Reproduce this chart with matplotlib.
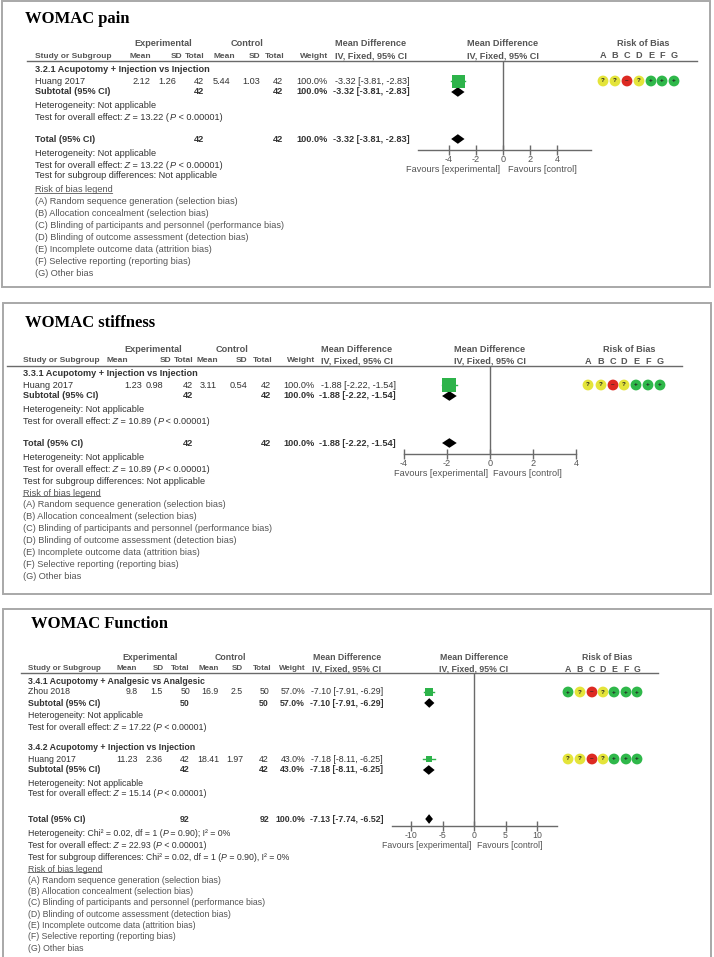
import matplotlib
matplotlib.use("Agg")
import matplotlib.pyplot as plt
from matplotlib.patches import Circle, Rectangle

plt.rcParams['font.family'] = ['Liberation Sans', 'DejaVu Sans']
plt.rcParams['axes.unicode_minus'] = False

# ---- data ----
rob_domains = ["A", "B", "C", "D", "E", "F", "G"]
rob_legend = ["Random sequence generation (selection bias)",
              "Allocation concealment (selection bias)",
              "Blinding of participants and personnel (performance bias)",
              "Blinding of outcome assessment (detection bias)",
              "Incomplete outcome data (attrition bias)",
              "Selective reporting (reporting bias)",
              "Other bias"]

# WOMAC pain
pain_group = "3.2.1 Acupotomy + Injection vs Injection"
pain_study = ["Huang 2017"]
pain_exp_mean = [2.12]
pain_exp_sd = [1.26]
pain_exp_n = [42]
pain_ctl_mean = [5.44]
pain_ctl_sd = [1.03]
pain_ctl_n = [42]
pain_weight = [100.0]
pain_md = [-3.32]
pain_lo = [-3.81]
pain_hi = [-2.83]
pain_rob = [["?", "?", "-", "?", "+", "+", "+"]]
pain_z = ["13.22"]
pain_total = [-3.32, -3.81, -2.83]
pain_total_z = "13.22"

# WOMAC stiffness
stiff_group = "3.3.1 Acupotomy + Injection vs Injection"
stiff_study = ["Huang 2017"]
stiff_exp_mean = [1.23]
stiff_exp_sd = [0.98]
stiff_exp_n = [42]
stiff_ctl_mean = [3.11]
stiff_ctl_sd = [0.54]
stiff_ctl_n = [42]
stiff_weight = [100.0]
stiff_md = [-1.88]
stiff_lo = [-2.22]
stiff_hi = [-1.54]
stiff_rob = [["?", "?", "-", "?", "+", "+", "+"]]
stiff_z = ["10.89"]
stiff_total = [-1.88, -2.22, -1.54]
stiff_total_z = "10.89"

# WOMAC function
func_group = ["3.4.1 Acupotomy + Analgesic vs Analgesic",
              "3.4.2 Acupotomy + Injection vs Injection"]
func_study = ["Zhou 2018", "Huang 2017"]
func_exp_mean = [9.8, 11.23]
func_exp_sd = [1.5, 2.36]
func_exp_n = [50, 42]
func_ctl_mean = [16.9, 18.41]
func_ctl_sd = [2.5, 1.97]
func_ctl_n = [50, 42]
func_weight = [57.0, 43.0]
func_md = [-7.10, -7.18]
func_lo = [-7.91, -8.11]
func_hi = [-6.29, -6.25]
func_rob = [["+", "?", "-", "?", "+", "+", "+"],
            ["?", "?", "-", "?", "+", "+", "+"]]
func_z = ["17.22", "15.14"]
func_total = [-7.13, -7.74, -6.52]
func_total_z = "22.93"
func_chi2 = "0.02"
func_p_het = "0.90"

# ---- styling ----
W, H = 714, 957
TXT = '#333333'
GRAY = '#555555'
LINE = '#6a6a6a'
GREEN = '#2db34a'
ROB_COL = {"+": '#2fb84a', "?": '#e4e43a', "-": '#dd2a22'}
ROB_SYM = {"+": "+", "?": "?", "-": "\u2013"}

fig = plt.figure(figsize=(W / 100, H / 100), dpi=100)
bg = fig.add_axes([0, 0, 1, 1])
bg.set_xlim(0, W)
bg.set_ylim(H, 0)
bg.axis('off')

FS = [6.6]  # current panel font size


def txt(x, y, s, ha='left', bold=False, color=TXT, size=None):
    return bg.text(x, y, s, ha=ha, va='center', fontsize=size or FS[0],
                   color=color, fontweight='bold' if bold else 'normal')


def rich(x, y, parts, color=TXT):
    # parts: plain / italic pieces chained one after another
    prev = txt(x, y, parts[0], color=color)
    for k, s in enumerate(parts[1:]):
        prev = bg.annotate(s, xy=(1, 0), xycoords=prev, ha='left', va='bottom',
                           fontsize=FS[0], color=color,
                           style='italic' if k % 2 == 0 else 'normal')
    return prev


def test_line(x, y, z):
    rich(x, y, ["Test for overall effect:", " Z", " = %s (" % z, "P", " < 0.00001)"])


def mdstr(md, lo, hi):
    return "%.2f [%.2f, %.2f]" % (md, lo, hi)


def forest_ax(L):
    zero, ppu, (xmin, xmax) = L['zero'], L['ppu'], L['xlim']
    top, ay = L['line_y'], L['axis_y']
    ax = fig.add_axes([(zero + xmin * ppu) / W, (H - ay) / H,
                       (xmax - xmin) * ppu / W, (ay - top) / H])
    ax.set_xlim(xmin, xmax)
    ax.set_ylim(ay, top)
    ax.patch.set_visible(False)
    for s in ['top', 'right', 'left']:
        ax.spines[s].set_visible(False)
    ax.spines['bottom'].set_color(LINE)
    ax.spines['bottom'].set_linewidth(1)
    ax.set_yticks([])
    ax.set_xticks(L['ticks'])
    ax.tick_params(axis='x', direction='inout', length=7, width=1, color=LINE,
                   labelsize=FS[0], labelcolor=GRAY, pad=0)
    ax.axvline(0, color=LINE, lw=1)
    txt(L['fav'][0], ay + 19, "Favours [experimental]", ha='center', color=GRAY)
    txt(L['fav'][1], ay + 19, "Favours [control]", ha='center', color=GRAY)
    return ax


def header(L, title):
    FS[0] = L['fs']
    x0, y0, x1, y1 = L['box']
    bg.add_patch(Rectangle((x0, y0), x1 - x0, y1 - y0, fill=False,
                           ec='#a8a8a8', lw=1.4))
    bg.text(L['title'][0], L['title'][1], title, ha='left', va='center',
            fontsize=12, fontweight='bold', family='Liberation Serif', color='black')
    h1, h2 = L['h1'], L['h2']
    hs = L['hs']
    txt(L['exp_c'], h1, "Experimental", ha='center', bold=True, color=GRAY)
    txt(L['ctl_c'], h1, "Control", ha='center', bold=True, color=GRAY)
    txt(L['mdt_c'], h1, "Mean Difference", ha='center', bold=True, color=GRAY)
    txt(L['mdt_c'], h2, "IV, Fixed, 95% CI", ha='center', bold=True, color=GRAY)
    txt(L['zero'], h1, "Mean Difference", ha='center', bold=True, color=GRAY)
    txt(L['zero'], h2, "IV, Fixed, 95% CI", ha='center', bold=True, color=GRAY)
    txt(L['rob_c'], h1, "Risk of Bias", ha='center', bold=True, color=GRAY)
    for d, x in zip(rob_domains, L['robx']):
        txt(x, h2, d, ha='center', bold=True, color=GRAY)
    txt(L['tx'], h2, "Study or Subgroup", bold=True, color=GRAY, size=hs)
    for lab, x in zip(["Mean", "SD", "Total", "Mean", "SD", "Total", "Weight"], L['hr']):
        txt(x, h2, lab, ha='right', bold=True, color=GRAY, size=hs)
    bg.plot(L['line_x'], [L['line_y'], L['line_y']], color=LINE, lw=1)


def study_row(L, ax, y, i, name, em, esd, en, cm, csd, cn, w, md, lo, hi, rob):
    txt(L['tx'], y, name[i])
    vals = [str(em[i]), str(esd[i]), str(en[i]), str(cm[i]), str(csd[i]),
            str(cn[i]), "%.1f%%" % w[i]]
    for v, xr in zip(vals, L['vr']):
        txt(xr, y, v, ha='right')
    txt(L['mdr'], y, mdstr(md[i], lo[i], hi[i]), ha='right')
    ax.plot([lo[i], hi[i]], [y, y], color=GREEN, lw=1, clip_on=False)
    ax.plot(md[i], y, 's', ms=L['smax'] * w[i] / 100 * 0.72, color=GREEN,
            mew=0, clip_on=False)
    for r, x in zip(rob[i], L['robx']):
        bg.add_patch(Circle((x, y), 5.4, color=ROB_COL[r], lw=0))
        bg.text(x, y, ROB_SYM[r], ha='center', va='center', fontsize=4.6,
                fontweight='bold', color='#222222')


def pooled_row(L, ax, y, label, en, cn, w, md, lo, hi):
    txt(L['tx'], y, label, bold=True)
    txt(L['vr'][2], y, str(en), ha='right', bold=True)
    txt(L['vr'][5], y, str(cn), ha='right', bold=True)
    txt(L['vr'][6], y, "%.1f%%" % w, ha='right', bold=True)
    txt(L['mdr'], y, mdstr(md, lo, hi), ha='right', bold=True)
    ax.fill([lo, md, hi, md], [y, y - 4.8, y, y + 4.8], color='black',
            lw=0, clip_on=False)


def legend_block(L, y0, step):
    t = txt(L['tx'], y0, "Risk of bias legend", color=GRAY)
    bg.annotate("", xy=(0, 0.12), xycoords=t, xytext=(1, 0.12), textcoords=t,
                arrowprops=dict(arrowstyle='-', color=GRAY, lw=0.6,
                                shrinkA=0, shrinkB=0))
    for k, (d, s) in enumerate(zip(rob_domains, rob_legend)):
        txt(L['tx'], y0 + step * (k + 1), "(%s) %s" % (d, s), color=GRAY)


# ---- panel 1: pain ----
L1 = dict(fs=6.6, hs=6.0, box=(2, 1, 710, 287), title=(25, 19), h1=44, h2=56, line_y=61,
          line_x=[27, 697], tx=35, exp_c=163, ctl_c=247, mdt_c=371,
          hr=[151, 182, 204, 235, 260, 284, 328],
          vr=[150, 176, 204, 230, 260, 283, 328], mdr=410,
          zero=503, ppu=13.6, xlim=(-6.25, 6.47), ticks=[-4, -2, 0, 2, 4],
          axis_y=150, fav=(453, 542), rob_c=643,
          robx=[603, 615, 627, 639, 651, 662, 674], smax=13)
header(L1, "WOMAC pain")
ax1 = forest_ax(L1)
txt(L1['tx'], 69, pain_group, bold=True)
study_row(L1, ax1, 81, 0, pain_study, pain_exp_mean, pain_exp_sd, pain_exp_n,
          pain_ctl_mean, pain_ctl_sd, pain_ctl_n, pain_weight, pain_md,
          pain_lo, pain_hi, pain_rob)
pooled_row(L1, ax1, 92, "Subtotal (95% CI)", pain_exp_n[0], pain_ctl_n[0],
           pain_weight[0], pain_md[0], pain_lo[0], pain_hi[0])
txt(L1['tx'], 105, "Heterogeneity: Not applicable")
test_line(L1['tx'], 117, pain_z[0])
pooled_row(L1, ax1, 139, "Total (95% CI)", sum(pain_exp_n), sum(pain_ctl_n),
           100.0, *pain_total)
txt(L1['tx'], 153, "Heterogeneity: Not applicable")
test_line(L1['tx'], 165, pain_total_z)
txt(L1['tx'], 176, "Test for subgroup differences: Not applicable")
legend_block(L1, 190, 12)

# ---- panel 2: stiffness ----
L2 = dict(fs=6.6, hs=6.0, box=(3, 303, 711, 594), title=(25, 323), h1=349, h2=361, line_y=366,
          line_x=[7, 682], tx=23, exp_c=153, ctl_c=232, mdt_c=357,
          hr=[128, 171, 193, 218, 247, 272, 315],
          vr=[142, 163, 193, 217, 247, 271, 315], mdr=396,
          zero=490, ppu=21.6, xlim=(-4, 4), ticks=[-4, -2, 0, 2, 4],
          axis_y=454, fav=(441, 527), rob_c=629,
          robx=[588, 601, 613, 624, 636, 648, 660], smax=14)
header(L2, "WOMAC stiffness")
ax2 = forest_ax(L2)
txt(L2['tx'], 373, stiff_group, bold=True)
study_row(L2, ax2, 385, 0, stiff_study, stiff_exp_mean, stiff_exp_sd, stiff_exp_n,
          stiff_ctl_mean, stiff_ctl_sd, stiff_ctl_n, stiff_weight, stiff_md,
          stiff_lo, stiff_hi, stiff_rob)
pooled_row(L2, ax2, 396, "Subtotal (95% CI)", stiff_exp_n[0], stiff_ctl_n[0],
           stiff_weight[0], stiff_md[0], stiff_lo[0], stiff_hi[0])
txt(L2['tx'], 409, "Heterogeneity: Not applicable")
test_line(L2['tx'], 421, stiff_z[0])
pooled_row(L2, ax2, 443, "Total (95% CI)", sum(stiff_exp_n), sum(stiff_ctl_n),
           100.0, *stiff_total)
txt(L2['tx'], 457, "Heterogeneity: Not applicable")
test_line(L2['tx'], 469, stiff_total_z)
txt(L2['tx'], 481, "Test for subgroup differences: Not applicable")
legend_block(L2, 493, 11.9)

# ---- panel 3: function ----
L3 = dict(fs=6.3, hs=5.8, box=(3, 609, 711, 958), title=(31, 624), h1=658, h2=669, line_y=673,
          line_x=[21, 658], tx=28, exp_c=150, ctl_c=230, mdt_c=347,
          hr=[137, 164, 190, 219, 243, 272, 306],
          vr=[138, 163, 190, 219, 243, 269, 305], mdr=383,
          zero=474, ppu=6.3, xlim=(-13, 13.2), ticks=[-10, -5, 0, 5, 10],
          axis_y=826, fav=(427, 510), rob_c=607,
          robx=[568, 580, 592, 603, 614, 626, 637], smax=14)
header(L3, "WOMAC Function")
ax3 = forest_ax(L3)
for g, gy in enumerate([681, 748]):
    txt(L3['tx'], gy, func_group[g], bold=True)
    study_row(L3, ax3, gy + 11, g, func_study, func_exp_mean, func_exp_sd,
              func_exp_n, func_ctl_mean, func_ctl_sd, func_ctl_n, func_weight,
              func_md, func_lo, func_hi, func_rob)
    pooled_row(L3, ax3, gy + 22, "Subtotal (95% CI)", func_exp_n[g], func_ctl_n[g],
               func_weight[g], func_md[g], func_lo[g], func_hi[g])
    txt(L3['tx'], gy + 35, "Heterogeneity: Not applicable")
    test_line(L3['tx'], gy + 46, func_z[g])
pooled_row(L3, ax3, 819, "Total (95% CI)", sum(func_exp_n), sum(func_ctl_n),
           100.0, *func_total)
rich(L3['tx'], 834, ["Heterogeneity: Chi\u00b2 = %s, df = 1 (" % func_chi2, "P",
                     " = %s); I\u00b2 = 0%%" % func_p_het])
test_line(L3['tx'], 845.5, func_total_z)
rich(L3['tx'], 857, ["Test for subgroup differences: Chi\u00b2 = %s, df = 1 (" % func_chi2,
                     "P", " = %s), I\u00b2 = 0%%" % func_p_het])
legend_block(L3, 869, 11.3)

fig.savefig("out.png", dpi=100)
